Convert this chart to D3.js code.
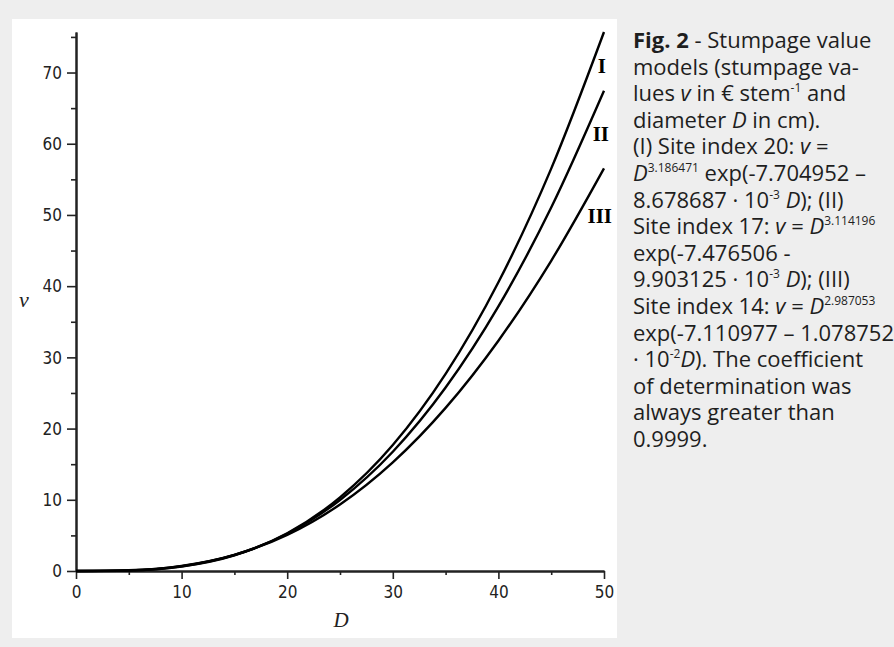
<!DOCTYPE html>
<html>
<head>
<meta charset="utf-8">
<script src="https://cdn.jsdelivr.net/npm/d3@7"></script>
<style>
  html, body { margin: 0; padding: 0; background: #eeeeee; }
  svg { display: block; }
  .tick text { font-family: "Liberation Sans Narrow", "DejaVu Sans Condensed", sans-serif; font-size: 17px; fill: #222; }
  .caption { font-family: "Open Sans", "Noto Sans", sans-serif; font-size: 22px; fill: #1e1e1e; }
</style>
</head>
<body>
<svg id="chart" width="894" height="647"></svg>
<script>
// Stumpage value v (€ per stem), by diameter D (cm)
const diameters = [0, 5, 10, 15, 20, 25, 30, 35, 40, 45, 50];
const siteI   = [0, 0.073, 0.635, 2.212, 5.298, 10.329, 17.681, 27.669, 40.544, 56.505, 75.691];
const siteII  = [0, 0.081, 0.667, 2.244, 5.232, 9.976, 16.750, 25.763, 37.161, 51.036, 67.433];
const siteIII = [0, 0.095, 0.711, 2.262, 5.062, 9.340, 15.256, 22.908, 32.343, 43.566, 56.547];
const seriesNames = ['I', 'II', 'III'];

const xMajor = [0, 10, 20, 30, 40, 50];
const xMinor = [5, 15, 25, 35, 45];
const yMajor = [0, 10, 20, 30, 40, 50, 60, 70];
const yMinor = [5, 15, 25, 35, 45, 55, 65, 75];

// where each curve name sits, in data units
const labelAt = [[49.8, 71.0], [49.7, 61.4], [49.6, 49.9]];

// caption lines: [text, style] pieces; style b=bold, i=italic, sup=superscript
const captionLines = [
  [['Fig. 2', 'b'], [' - Stumpage value']],
  [['models (stumpage va-']],
  [['lues '], ['v', 'i'], [' in € stem'], ['-1', 'sup'], [' and']],
  [['diameter '], ['D', 'i'], [' in cm).']],
  [['(I) Site index 20: '], ['v', 'i'], [' =']],
  [['D', 'i'], ['3.186471', 'sup'], [' exp(-7.704952 –']],
  [['8.678687 · 10'], ['-3', 'sup'], [' '], ['D', 'i'], ['); (II)']],
  [['Site index 17: '], ['v', 'i'], [' = '], ['D', 'i'], ['3.114196', 'sup']],
  [['exp(-7.476506 -']],
  [['9.903125 · 10'], ['-3', 'sup'], [' '], ['D', 'i'], ['); (III)']],
  [['Site index 14: '], ['v', 'i'], [' = '], ['D', 'i'], ['2.987053', 'sup']],
  [['exp(-7.110977 – 1.078752']],
  [['· 10'], ['-2', 'sup'], ['D', 'i'], ['). The coefficient']],
  [['of determination was']],
  [['always greater than']],
  [['0.9999.']]
];

const svg = d3.select('#chart');

// white plotting panel
svg.append('rect')
  .attr('x', 12).attr('y', 19)
  .attr('width', 605).attr('height', 619)
  .attr('fill', '#ffffff');

const x = d3.scaleLinear().domain([0, 50]).range([76, 604]);
const y = d3.scaleLinear().domain([0, d3.max(siteI)]).range([571, 32]);

const axisColor = '#222';

// y axis: minor ticks first, then major with labels
const gyMinor = svg.append('g')
  .attr('transform', `translate(${x(0)},0)`)
  .call(d3.axisLeft(y).tickValues(yMinor).tickSize(5).tickSizeOuter(0).tickFormat(''));
const gy = svg.append('g')
  .attr('transform', `translate(${x(0)},0)`)
  .call(d3.axisLeft(y).tickValues(yMajor).tickSize(9).tickSizeOuter(0).tickPadding(5));

// x axis
const gxMinor = svg.append('g')
  .attr('transform', `translate(0,${y(0)})`)
  .call(d3.axisBottom(x).tickValues(xMinor).tickSize(4).tickSizeOuter(0).tickFormat(''));
const gx = svg.append('g')
  .attr('transform', `translate(0,${y(0)})`)
  .call(d3.axisBottom(x).tickValues(xMajor).tickSize(8).tickSizeOuter(0).tickPadding(7));

for (const g of [gyMinor, gy, gxMinor, gx]) {
  g.selectAll('path.domain').attr('stroke', axisColor).attr('stroke-width', 2);
  g.selectAll('.tick line').attr('stroke', axisColor).attr('stroke-width', 1.6);
}
gy.selectAll('.tick text').attr('dy', '0.34em');

// axis titles
svg.append('text')
  .attr('x', 24).attr('y', 307)
  .attr('text-anchor', 'middle')
  .attr('font-family', '"Liberation Serif", "DejaVu Serif", serif')
  .attr('font-style', 'italic')
  .attr('font-size', 22)
  .attr('fill', '#222')
  .text('v');

svg.append('text')
  .attr('x', 341).attr('y', 627)
  .attr('text-anchor', 'middle')
  .attr('font-family', '"Liberation Serif", "DejaVu Serif", serif')
  .attr('font-style', 'italic')
  .attr('font-size', 21)
  .attr('fill', '#222')
  .text('D');

// curves
const line = d3.line()
  .x((d, i) => x(diameters[i]))
  .y(d => y(d))
  .curve(d3.curveMonotoneX);

[siteI, siteII, siteIII].forEach(values => {
  svg.append('path')
    .attr('d', line(values))
    .attr('fill', 'none')
    .attr('stroke', '#000')
    .attr('stroke-width', 2.4)
    .attr('stroke-linejoin', 'round');
});

// curve names
seriesNames.forEach((name, i) => {
  svg.append('text')
    .attr('x', x(labelAt[i][0]))
    .attr('y', y(labelAt[i][1]))
    .attr('dy', '0.35em')
    .attr('text-anchor', 'middle')
    .attr('font-family', '"Liberation Serif", "DejaVu Serif", serif')
    .attr('font-weight', 'bold')
    .attr('font-size', 21)
    .attr('fill', '#000')
    .text(name);
});

// caption on the right
const CAP_X = 633;
const CAP_Y0 = 48;
const CAP_STEP = 26.6;

captionLines.forEach((pieces, li) => {
  const t = svg.append('text')
    .attr('class', 'caption')
    .attr('x', CAP_X)
    .attr('y', CAP_Y0 + li * CAP_STEP);
  let raised = false;
  pieces.forEach(([str, style]) => {
    const s = t.append('tspan').text(str);
    if (style === 'b') s.attr('font-weight', 'bold');
    if (style === 'i') s.attr('font-style', 'italic');
    if (style === 'sup') {
      s.attr('font-size', 12).attr('dy', -9);
      raised = true;
    } else if (raised) {
      s.attr('dy', 9);
      raised = false;
    }
  });
});
</script>
</body>
</html>
